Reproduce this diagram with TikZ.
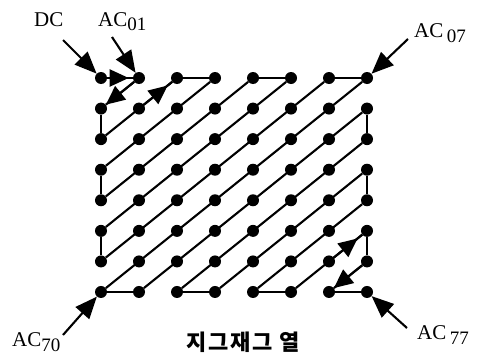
\documentclass[tikz,border=0pt]{standalone}
\usepackage{fontspec}
\setmainfont{Liberation Serif}
\newfontfamily\krfont[LetterSpace=8]{Noto Sans CJK KR}
\usetikzlibrary{arrows.meta,decorations.markings}
\newcommand\coefidx[1]{\raisebox{-5pt}{\fontsize{19}{19}\selectfont #1}}
\tikzset{
  gridpt/.style={
    circle,
    fill=black,
    inner sep=0pt,
    minimum size=12pt
  },
  scanline/.style={
    line width=2.1pt
  },
  scanarrow/.style={
    scanline,
    postaction={decorate},
    decoration={markings,
      mark=at position #1 with {\arrow{Triangle[length=19pt,width=17pt]}}}
  },
  scanarrow/.default=0.84,
  scanend/.style={
    scanline,
    -{Triangle[length=19pt,width=17pt]}
  },
  callout/.style={
    line width=2.1pt,
    -{Triangle[length=22pt,width=18pt]}
  },
  coeflabel/.style={
    font=\fontsize{21}{21}\selectfont,
    inner sep=0pt,
    anchor=base west
  }
}

\begin{document}
\begin{tikzpicture}[x=1pt,y=-1pt]
    \useasboundingbox (0,0) rectangle (484,356);

    % 8x8 coefficient grid
    \foreach \r in {0,...,7}
      \foreach \c in {0,...,7}
        \node[gridpt] (g-\r-\c) at ({101+38*\c},{78+30.57*\r}) {};

    % anti-diagonals of the scan
    \foreach \s in {1,...,13} {
      \pgfmathtruncatemacro\rtop{max(0,\s-7)}
      \pgfmathtruncatemacro\ctop{\s-\rtop}
      \pgfmathtruncatemacro\cbot{max(0,\s-7)}
      \pgfmathtruncatemacro\rbot{\s-\cbot}
      \draw[scanline] (g-\rtop-\ctop) -- (g-\rbot-\cbot);
    }
    % steps along the border
    \foreach \a/\b in {0/1,2/3,4/5,6/7} {
      \draw[scanline] (g-0-\a) -- (g-0-\b);
      \draw[scanline] (g-7-\a) -- (g-7-\b);
    }
    \foreach \a/\b in {1/2,3/4,5/6} {
      \draw[scanline] (g-\a-0) -- (g-\b-0);
      \draw[scanline] (g-\a-7) -- (g-\b-7);
    }

    % direction marks
    \draw[scanarrow] (g-0-0) -- (g-0-1);
    \draw[scanend] (g-0-1) -- (g-1-0);
    \draw[scanarrow] (g-1-1) -- (g-0-2);
    \draw[scanarrow] (g-6-6) -- (g-5-7);
    \draw[scanend] (g-6-7) -- (g-7-6);

    % labels
    \node[coeflabel] (dc) at (34,26) {DC};
    \node[coeflabel] (ac01) at (98,26) {AC\coefidx{01}};
    \node[coeflabel] (ac07) at (414,37) {AC\,\coefidx{07}};
    \node[coeflabel] (ac70) at (12,346) {AC\coefidx{70}};
    \node[coeflabel] (ac77) at (417,339) {AC\,\coefidx{77}};
    \node[font=\krfont\bfseries\fontsize{22}{22}\selectfont, inner sep=0pt] (title) at (243,342) {지그재그 열};

    \coordinate (dc-tail) at (63,40);
    \coordinate (ac01-tail) at (112,37);
    \coordinate (ac07-tail) at (408,39);
    \coordinate (ac70-tail) at (63,335);
    \coordinate (ac77-tail) at (407,328);

    \draw[callout] (dc-tail) -- (g-0-0);
    \draw[callout] (ac01-tail) -- (g-0-1);
    \draw[callout] (ac07-tail) -- (g-0-7);
    \draw[callout] (ac70-tail) -- (g-7-0);
    \draw[callout] (ac77-tail) -- (g-7-7);
\end{tikzpicture}
\end{document}
